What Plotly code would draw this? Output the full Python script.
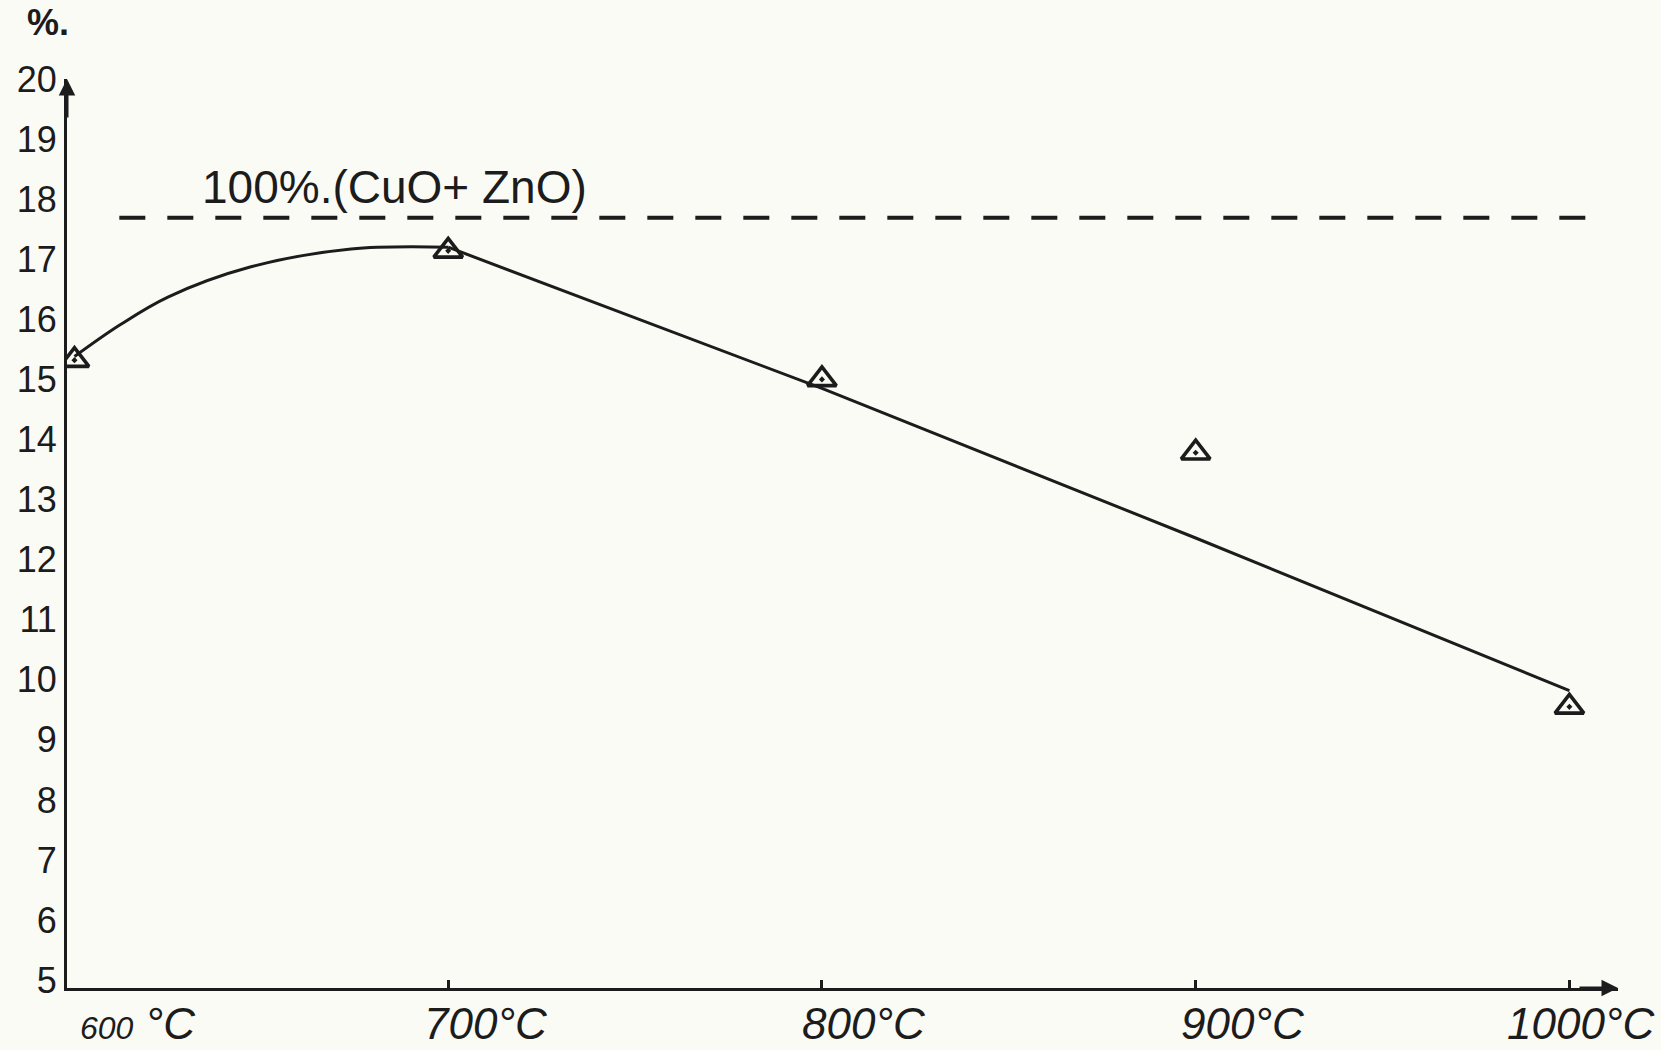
import plotly.graph_objects as go

# Measured content (%) versus calcination temperature
temps = [600, 700, 800, 900, 1000]
content = [15.32, 17.14, 15.0, 13.78, 9.55]

# Hand-fitted trend: rising arc up to 700 °C, then a near-straight decline
arc_temp = [600, 612, 625, 647, 674, 700]
arc_val = [15.38, 15.9, 16.37, 16.87, 17.17, 17.2]
decline_temp = [700, 800, 900, 1000]
decline_val = [17.2, 14.85, 12.36, 9.82]

# Reference level for 100 % (CuO + ZnO)
ref_temp = [612, 1007]
ref_val = [17.69, 17.69]
ref_label = "100%.(CuO+ ZnO)"

y_ticks = list(range(5, 21))
x_ticks = [700, 800, 900, 1000]
x_label_vals = [600, 700, 800, 900, 1000]
x_labels = ["<span style='font-size:32px'>600</span> °C", "700°C", "800°C", "900°C", "1000°C"]

INK = "#1c1c1c"
PAPER = "#fbfbf6"
FONT = "Liberation Sans"

fig = go.Figure()

fig.add_trace(go.Scatter(
    x=ref_temp, y=ref_val, mode="lines",
    line=dict(color=INK, width=4, dash="26px,22px"),
    hoverinfo="skip", showlegend=False,
))
fig.add_trace(go.Scatter(
    x=arc_temp, y=arc_val, mode="lines",
    line=dict(color=INK, width=3, shape="spline", smoothing=1.0),
    hoverinfo="skip", showlegend=False,
))
fig.add_trace(go.Scatter(
    x=decline_temp, y=decline_val, mode="lines",
    line=dict(color=INK, width=3),
    hoverinfo="skip", showlegend=False,
))
fig.add_trace(go.Scatter(
    x=temps, y=content, mode="markers",
    marker=dict(symbol="triangle-up-open-dot", size=25,
                color=INK, line=dict(color=INK, width=3.6)),
    showlegend=False,
))

annotations = []
# axis arrowheads
annotations.append(dict(x=598, y=20, xref="x", yref="y", ax=0, ay=40,
                        showarrow=True, arrowhead=2, arrowsize=1.1,
                        arrowwidth=3, arrowcolor=INK, text=""))
annotations.append(dict(x=1013, y=4.87, xref="x", yref="y", ax=-40, ay=0,
                        showarrow=True, arrowhead=2, arrowsize=1.1,
                        arrowwidth=3, arrowcolor=INK, text=""))
# x labels, hand-placed slightly right of their ticks
label_shift = [4, -26, -22, -17, 88]
label_anchor = ["left", "left", "left", "left", "right"]
for v, t, s, a in zip(x_label_vals, x_labels, label_shift, label_anchor):
    annotations.append(dict(
        x=v, y=0, xref="x", yref="paper", text=t, showarrow=False,
        xanchor=a, yanchor="middle", xshift=s, yshift=-35,
        font=dict(family=FONT, size=44, color=INK, style="italic"),
    ))
# reference label
annotations.append(dict(
    x=ref_temp[0], y=ref_val[0], xref="x", yref="y", text=ref_label,
    showarrow=False, xanchor="left", yanchor="bottom", xshift=81, yshift=3,
    font=dict(family=FONT, size=46, color=INK),
))
# unit on the y axis
annotations.append(dict(
    x=0, y=1, xref="paper", yref="paper", text="<b>%.</b>", showarrow=False,
    xanchor="left", yanchor="middle", xshift=-42, yshift=57,
    font=dict(family=FONT, size=36, color=INK),
))

fig.update_layout(
    width=1661, height=1050, autosize=False,
    margin=dict(l=67, r=43, t=79, b=62),
    paper_bgcolor=PAPER, plot_bgcolor=PAPER,
    annotations=annotations,
    font=dict(family=FONT, color=INK),
)
fig.update_xaxes(
    range=[598, 1013], showgrid=False, zeroline=False,
    showline=True, linecolor=INK, linewidth=3,
    tickvals=x_ticks, ticks="inside", ticklen=8, tickwidth=2.5, tickcolor=INK,
    showticklabels=False,
)
fig.update_yaxes(
    range=[4.87, 20], showgrid=False, zeroline=False,
    showline=True, linecolor=INK, linewidth=3,
    tickvals=y_ticks, ticktext=[str(v) for v in y_ticks],
    ticks="", tickfont=dict(family=FONT, size=36, color=INK),
)

fig.write_html("out.html")
